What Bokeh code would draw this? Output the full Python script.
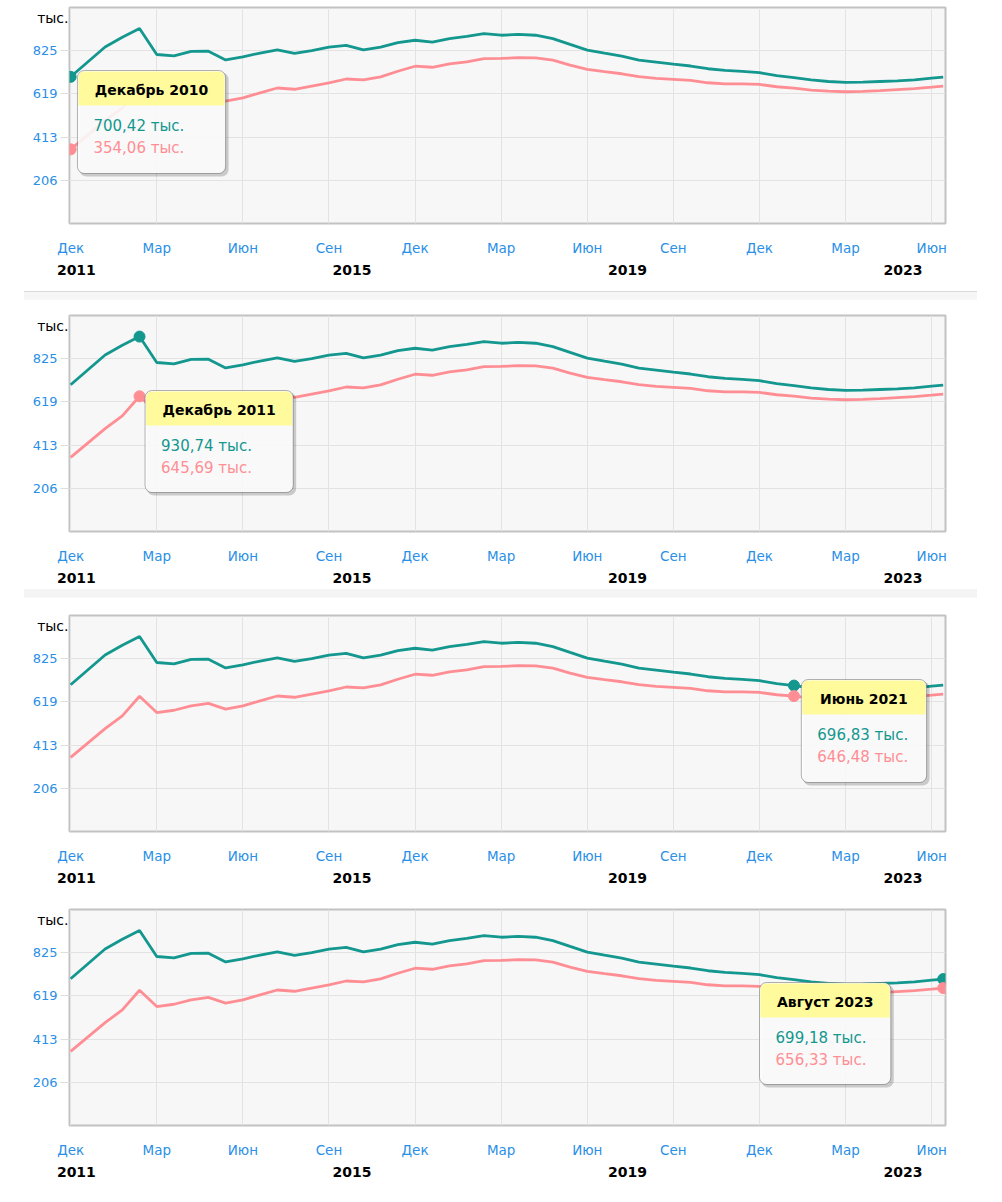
import pandas as pd
from bokeh.plotting import figure
from bokeh.models import (FixedTicker, LinearAxis, Range1d, Label, BoxAnnotation, Div,
                          ColumnDataSource)
from bokeh.layouts import column
from bokeh.embed import file_html
from bokeh.resources import INLINE

# ---------------- data ----------------
dates = [
    "2010-12", "2011-06", "2011-09", "2011-12",
    "2012-03", "2012-06", "2012-09", "2012-12",
    "2013-03", "2013-06", "2013-09", "2013-12",
    "2014-03", "2014-06", "2014-09", "2014-12",
    "2015-03", "2015-06", "2015-09", "2015-12",
    "2016-03", "2016-06", "2016-09", "2016-12",
    "2017-03", "2017-06", "2017-09", "2017-12",
    "2018-03", "2018-06", "2018-09", "2018-12",
    "2019-03", "2019-06", "2019-09", "2019-12",
    "2020-03", "2020-06", "2020-09", "2020-12",
    "2021-03", "2021-06", "2021-09", "2021-12",
    "2022-03", "2022-06", "2022-09", "2022-12",
    "2023-03", "2023-06", "2023-08",
]
series_teal = [
    700.42, 843, 889, 930.74,
    807, 800, 822, 823,
    781, 796, 814, 829,
    812, 826, 842, 851,
    829, 842, 864, 875,
    866, 883, 894, 907,
    899, 903, 899, 883,
    855, 828, 813, 799,
    780, 771, 761, 752,
    739, 731, 726, 720,
    706, 696.83, 686, 678,
    674, 675, 678, 681,
    686, 694, 699.18,
]
series_pink = [
    354.06, 491, 552, 645.69,
    568, 579, 600, 612,
    584, 600, 624, 647,
    641, 656, 671, 690,
    686, 700, 727, 751,
    746, 762, 772, 787,
    788, 792, 791, 780,
    756, 736, 725, 715,
    701, 693, 688, 683,
    672, 667, 667, 664,
    653, 646.48, 637, 632,
    629, 631, 634, 639,
    644, 651, 656.33,
]
month_tick_dates = ["2010-12", "2012-03", "2013-06", "2014-09", "2015-12", "2017-03",
                    "2018-06", "2019-09", "2020-12", "2022-03", "2023-06"]
month_tick_labels = ["Дек", "Мар", "Июн", "Сен", "Дек", "Мар", "Июн", "Сен", "Дек", "Мар", "Июн"]
year_tick_dates = ["2011-01", "2015-01", "2019-01", "2023-01"]
year_tick_labels = ["2011", "2015", "2019", "2023"]
y_ticks = [206.28, 412.56, 618.84, 825.12]
y_tick_labels = ["206", "413", "619", "825"]
unit_label = "тыс."
tooltip_titles = ["Декабрь 2010", "Декабрь 2011", "Июнь 2021", "Август 2023"]
hover_dates = ["2010-12", "2011-12", "2021-06", "2023-08"]


def month_index(s):
    t = pd.Period(s, freq="M")
    return (t.year - 2010) * 12 + t.month - 12


def fmt(v):
    return f"{v:.2f}".replace(".", ",") + " " + unit_label


x_vals = [month_index(d) for d in dates]
src = ColumnDataSource(dict(x=x_vals, teal=series_teal, pink=series_pink))

# ---------------- style ----------------
TEAL = "#13978f"
PINK = "#ff8e94"
BLUE = "#2a8fe6"
FONT = "DejaVu Sans"
X0, X1 = -0.2, 152.4
Y0, Y1 = 0.0, 1031.4
FW, FH = 881, 216
W = 986

panels = [
    dict(left=64, top=7, bottom=66, box=(8, 63, 149, 103)),
    dict(left=66, top=16, bottom=56, box=(76, 75, 149, 102)),
    dict(left=69, top=18, bottom=65, box=(736, 64, 126, 103)),
    dict(left=68, top=12, bottom=66, box=(694, 73, 132, 102)),
]

sx = FW / (X1 - X0)
sy = FH / (Y1 - Y0)


def make_panel(i, cfg):
    h = cfg["top"] + FH + cfg["bottom"]
    p = figure(width=W, height=h, x_range=Range1d(X0, X1), y_range=Range1d(Y0, Y1),
               output_backend="svg", toolbar_location=None,
               min_border_left=cfg["left"], min_border_right=W - cfg["left"] - FW,
               min_border_top=cfg["top"], min_border_bottom=cfg["bottom"])
    p.background_fill_color = "#f7f7f7"
    p.border_fill_color = "white"
    p.outline_line_color = "#c2c2c2"
    p.outline_line_width = 2

    # x axis (months)
    xa = p.xaxis[0]
    m_ticks = [month_index(d) for d in month_tick_dates]
    xa.ticker = FixedTicker(ticks=m_ticks)
    xa.major_label_overrides = {t: l for t, l in zip(m_ticks, month_tick_labels)}
    xa.axis_line_color = None
    xa.major_tick_line_color = None
    xa.major_tick_out = 0
    xa.major_tick_in = 0
    xa.minor_tick_line_color = None
    xa.minor_tick_out = 0
    xa.major_label_standoff = 16
    xa.major_label_text_color = BLUE
    xa.major_label_text_font = FONT
    xa.major_label_text_font_size = "13.5px"

    # years axis
    y_t = [month_index(d) for d in year_tick_dates]
    xa2 = LinearAxis(ticker=FixedTicker(ticks=y_t),
                     major_label_overrides={t: l for t, l in zip(y_t, year_tick_labels)})
    xa2.axis_line_color = None
    xa2.major_tick_line_color = None
    xa2.major_tick_out = 0
    xa2.major_tick_in = 0
    xa2.minor_tick_line_color = None
    xa2.minor_tick_out = 0
    xa2.major_label_standoff = 6
    xa2.major_label_text_color = "black"
    xa2.major_label_text_font = FONT
    xa2.major_label_text_font_style = "bold"
    xa2.major_label_text_font_size = "14px"
    p.add_layout(xa2, "below")

    # y axis
    ya = p.yaxis[0]
    ya.ticker = FixedTicker(ticks=y_ticks)
    ya.major_label_overrides = {t: l for t, l in zip(y_ticks, y_tick_labels)}
    ya.axis_line_color = None
    ya.major_tick_line_color = "#dedede"
    ya.major_tick_out = 9
    ya.major_tick_in = 0
    ya.minor_tick_line_color = None
    ya.minor_tick_out = 0
    ya.major_label_standoff = 3
    ya.major_label_text_color = BLUE
    ya.major_label_text_font = FONT
    ya.major_label_text_font_size = "13px"

    # unit label as a second left axis pulled back beside the first one
    unit_pos = Y1 - 10 / sy
    ua = LinearAxis(ticker=FixedTicker(ticks=[unit_pos]),
                    major_label_overrides={unit_pos: unit_label})
    ua.axis_line_color = None
    ua.major_tick_line_color = None
    ua.major_tick_out = 0
    ua.major_tick_in = 0
    ua.minor_tick_line_color = None
    ua.minor_tick_out = 0
    ua.major_label_standoff = -39
    ua.major_label_text_color = "black"
    ua.major_label_text_font = FONT
    ua.major_label_text_font_size = "14px"
    p.add_layout(ua, "left")

    p.xgrid.grid_line_color = "#e3e3e3"
    p.ygrid.grid_line_color = "#e3e3e3"

    p.line("x", "teal", source=src, line_color=TEAL, line_width=2.8)
    p.line("x", "pink", source=src, line_color=PINK, line_width=2.8)

    k = dates.index(hover_dates[i])
    hx = x_vals[k]
    p.scatter([hx], [series_teal[k]], size=11, fill_color=TEAL, line_color=TEAL)
    p.scatter([hx], [series_pink[k]], size=11, fill_color=PINK, line_color=PINK)

    L, T, BW, BH = cfg["box"]

    def dx(px):
        return X0 + px / sx

    def dy(py):
        return Y1 - py / sy

    p.add_layout(BoxAnnotation(left=dx(L + 2), right=dx(L + BW + 3), top=dy(T + 2), bottom=dy(T + BH + 3),
                               fill_color="black", fill_alpha=0.18, line_color=None,
                               border_radius=7))
    p.add_layout(BoxAnnotation(left=dx(L), right=dx(L + BW), top=dy(T), bottom=dy(T + BH),
                               fill_color="white", fill_alpha=0.88, line_color=None,
                               border_radius=7))
    p.add_layout(BoxAnnotation(left=dx(L + 1), right=dx(L + BW - 1), top=dy(T + 1), bottom=dy(T + 35),
                               fill_color="#fffb9c", fill_alpha=1, line_color=None,
                               border_radius=(6, 6, 0, 0)))
    p.add_layout(BoxAnnotation(left=dx(L), right=dx(L + BW), top=dy(T), bottom=dy(T + BH),
                               fill_color=None, fill_alpha=0, line_color="black", line_width=1,
                               border_radius=7))
    p.add_layout(Label(x=dx(L + BW / 2), y=dy(T), y_offset=-19, text=tooltip_titles[i],
                       text_align="center", text_baseline="middle", text_font=FONT,
                       text_font_style="bold", text_font_size="14px", text_color="black"))
    p.add_layout(Label(x=dx(L), y=dy(T), x_offset=16, y_offset=-55, text=fmt(series_teal[k]),
                       text_align="left", text_baseline="middle", text_font=FONT,
                       text_font_size="15px", text_color=TEAL))
    p.add_layout(Label(x=dx(L), y=dy(T), x_offset=16, y_offset=-77, text=fmt(series_pink[k]),
                       text_align="left", text_baseline="middle", text_font=FONT,
                       text_font_size="15px", text_color=PINK))
    return p


def sep(h, border=True, bg="#f6f6f6"):
    style = f"margin-left:24px;width:953px;height:{h}px;box-sizing:border-box;background:{bg};"
    if border:
        style += "border-top:1px solid #d9d9d9;"
    return Div(text=f'<div style="{style}"></div>', width=W, height=h, margin=0)


figs = [make_panel(i, c) for i, c in enumerate(panels)]
layout = column(
    figs[0], sep(10),
    figs[1], sep(10, border=False, bg="#f4f4f4"),
    figs[2], sep(1, border=False, bg="#e4e4e4"),
    figs[3], sep(1, border=False, bg="#e4e4e4"),
    spacing=0,
)

open("out.html", "w").write(file_html(layout, INLINE))
